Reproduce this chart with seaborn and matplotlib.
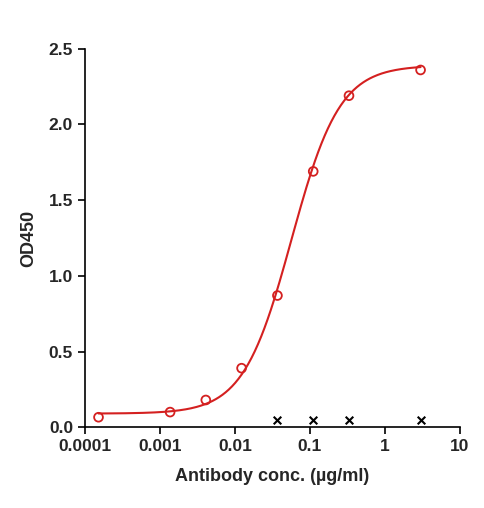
# Recreate OD450 vs antibody concentration dose-response chart
import numpy as np
import pandas as pd
import matplotlib
matplotlib.use("Agg")
import matplotlib.pyplot as plt
import seaborn as sns

# %% data
conc = [0.000152, 0.00137, 0.0041, 0.0123, 0.037, 0.111, 0.333, 3.0]
od450 = [0.066, 0.10, 0.18, 0.39, 0.87, 1.69, 2.19, 2.36]
blank_conc = [0.037, 0.111, 0.333, 3.0]
blank_od = [0.05, 0.05, 0.05, 0.05]
# 4PL fit parameters (bottom, top, EC50, hill)
fit_bottom, fit_top, fit_ec50, fit_hill = 0.09, 2.39, 0.057, 1.35
xticks = [0.0001, 0.001, 0.01, 0.1, 1, 10]
xticklabels = ["0.0001", "0.001", "0.01", "0.1", "1", "10"]

# %% plot
sns.set_style("ticks")
plt.rcParams['font.family'] = ['Liberation Sans', 'DejaVu Sans']

fig = plt.figure(figsize=(4.85, 5.08), dpi=100)
ax = fig.add_axes([0.175, 0.159, 0.773, 0.745])

xfit = np.logspace(np.log10(conc[0]), np.log10(conc[-1]), 300)
yfit = fit_bottom + (fit_top - fit_bottom) / (1 + (fit_ec50 / xfit) ** fit_hill)
sns.lineplot(x=xfit, y=yfit, color="#d42020", lw=1.5, ax=ax)

pts = pd.DataFrame({"conc": conc, "od": od450})
ax.scatter(pts.conc, pts.od, s=40, facecolors="none", edgecolors="#d42020", lw=1.3, zorder=3)
ax.scatter(blank_conc, blank_od, marker="x", s=30, color="black", lw=1.5, zorder=3)

ax.set_xscale("log")
ax.set_xlim(0.0001, 10)
ax.set_ylim(0, 2.5)
ax.set_xticks(xticks)
ax.set_xticklabels(xticklabels)
ax.minorticks_off()
ax.set_yticks([0, 0.5, 1.0, 1.5, 2.0, 2.5])
ax.set_yticklabels(["0.0", "0.5", "1.0", "1.5", "2.0", "2.5"])
for lab in ax.get_xticklabels() + ax.get_yticklabels():
    lab.set_fontweight("bold")
    lab.set_fontsize(12.5)
ax.tick_params(width=1.2, length=5, color="black")
for s in ["left", "bottom"]:
    ax.spines[s].set_linewidth(1.2)
    ax.spines[s].set_color("black")
sns.despine(ax=ax)
ax.set_xlabel("Antibody conc. (\u00b5g/ml)", fontsize=13, fontweight="bold", labelpad=10)
ax.set_ylabel("OD450", fontsize=13, fontweight="bold", labelpad=8)

fig.savefig("out.png", dpi=100)
